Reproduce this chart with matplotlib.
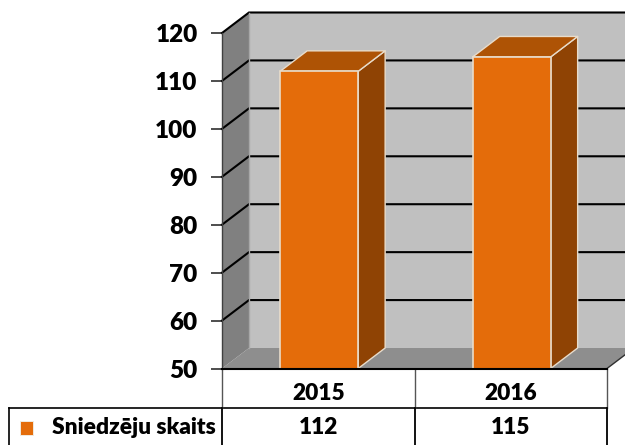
import matplotlib
matplotlib.use("Agg")
import matplotlib.pyplot as plt
from matplotlib.patches import Polygon, Rectangle

categories = ["2015", "2016"]
series_name = "Sniedzēju skaits"
values = [112, 115]
y_ticks = [50, 60, 70, 80, 90, 100, 110, 120]

W, H = 625, 445
X0, X1, Y0, Y1 = 222, 607, 368.5, 33   # axes box in pixels
plt.rcParams['font.family'] = ['Lato', 'DejaVu Sans']
plt.rcParams['font.weight'] = 'heavy'

fig = plt.figure(figsize=(W / 100, H / 100), dpi=100, facecolor='white')
ax = fig.add_axes([X0 / W, 1 - Y0 / H, (X1 - X0) / W, (Y0 - Y1) / H])
ax.set_xlim(0, len(categories))
ax.set_ylim(50, 120)
for s in ax.spines.values():
    s.set_visible(False)
ax.patch.set_visible(False)

px = len(categories) / (X1 - X0)      # data units per pixel, x
py = 70 / (Y0 - Y1)                   # data units per pixel, y
dx, dy = 27 * px, 20.5 * py           # 3-D depth
xmax, ymin, ymax = len(categories), 50, 120


def poly(points, fc, ec='none', lw=0, z=1):
    ax.add_patch(Polygon(points, closed=True, facecolor=fc, edgecolor=ec,
                         linewidth=lw, zorder=z, clip_on=False, joinstyle='round'))


# back wall
poly([(dx, ymin + dy), (xmax + dx, ymin + dy), (xmax + dx, ymax + dy), (dx, ymax + dy)], '#c0c0c0', z=1)
# floor
poly([(0, ymin), (xmax, ymin), (xmax + dx, ymin + dy), (dx, ymin + dy)], '#8e8e8e', z=1)
# left wall
poly([(0, ymin), (dx, ymin + dy), (dx, ymax + dy), (0, ymax)], '#808080', z=1)

# gridlines on the walls
for t in y_ticks[1:]:
    ax.plot([0, dx, xmax + dx], [t, t + dy, t + dy], color='black', lw=1.5, zorder=2,
            clip_on=False, solid_joinstyle='miter')
ax.plot([dx, dx], [ymin + dy, ymax + dy], color='#a8a8a8', lw=1, zorder=2, clip_on=False)
ax.plot([0, 0], [ymin, ymax], color='#404040', lw=1, zorder=2, clip_on=False)
ax.plot([0, xmax], [ymin, ymin], color='black', lw=1.5, zorder=6, clip_on=False)
ax.plot([xmax, xmax + dx], [ymin, ymin + dy], color='#303030', lw=1, zorder=2, clip_on=False)

# bars
edge = '#e8dccb'
bw = 78 * px
for i, v in enumerate(values):
    l, r = i + 0.5 - bw / 2 + 0.9 * px, i + 0.5 + bw / 2 + 0.9 * px
    poly([(r, ymin), (r + dx, ymin + dy), (r + dx, v + dy), (r, v)], '#8f4304', edge, 1.0, 3)
    poly([(l, v), (r, v), (r + dx, v + dy), (l + dx, v + dy)], '#ae5305', edge, 1.0, 3)
    ax.add_patch(Rectangle((l, ymin), bw, v - ymin, facecolor='#e46c0a', edgecolor=edge,
                           linewidth=1.2, zorder=4, clip_on=False))

# y axis
ax.set_yticks(y_ticks)
ax.tick_params(axis='y', length=8, width=1.2, color='#303030', pad=9.5, labelsize=17.5)
ax.set_xticks([])

# data table
row1 = 407.5
row2 = H + 2
to_y = lambda p: ymin - (p - Y0) * py
for i in range(len(categories) + 1):
    ax.plot([i, i], [ymin, to_y(row1)], color='#555555', lw=1, zorder=5, clip_on=False)
    ax.plot([i, i], [to_y(row1), to_y(row2)], color='black', lw=1.3, zorder=5, clip_on=False)
left = -(X0 - 9) * px
ax.plot([left, xmax], [to_y(row1), to_y(row1)], color='black', lw=1.2, clip_on=False)
ax.plot([left, left], [to_y(row1), to_y(row2)], color='black', lw=1.2, clip_on=False)

for i, c in enumerate(categories):
    ax.text(i + 0.5, to_y(393), c, ha='center', va='center', fontsize=16.3, clip_on=False)
    ax.text(i + 0.5, to_y(427.5), str(values[i]), ha='center', va='center', fontsize=16.3, clip_on=False)
ax.text(-6.5 * px, to_y(427.5), series_name, ha='right', va='center', fontsize=16.4, clip_on=False)
ax.add_patch(Rectangle((-(X0 - 19.5) * px, to_y(434.5)), 13 * px, 14 * py, facecolor='#e46c0a',
                       edgecolor='#f0ebe0', linewidth=0.7, clip_on=False, zorder=5))

fig.savefig('out.png', dpi=100, facecolor='white')
